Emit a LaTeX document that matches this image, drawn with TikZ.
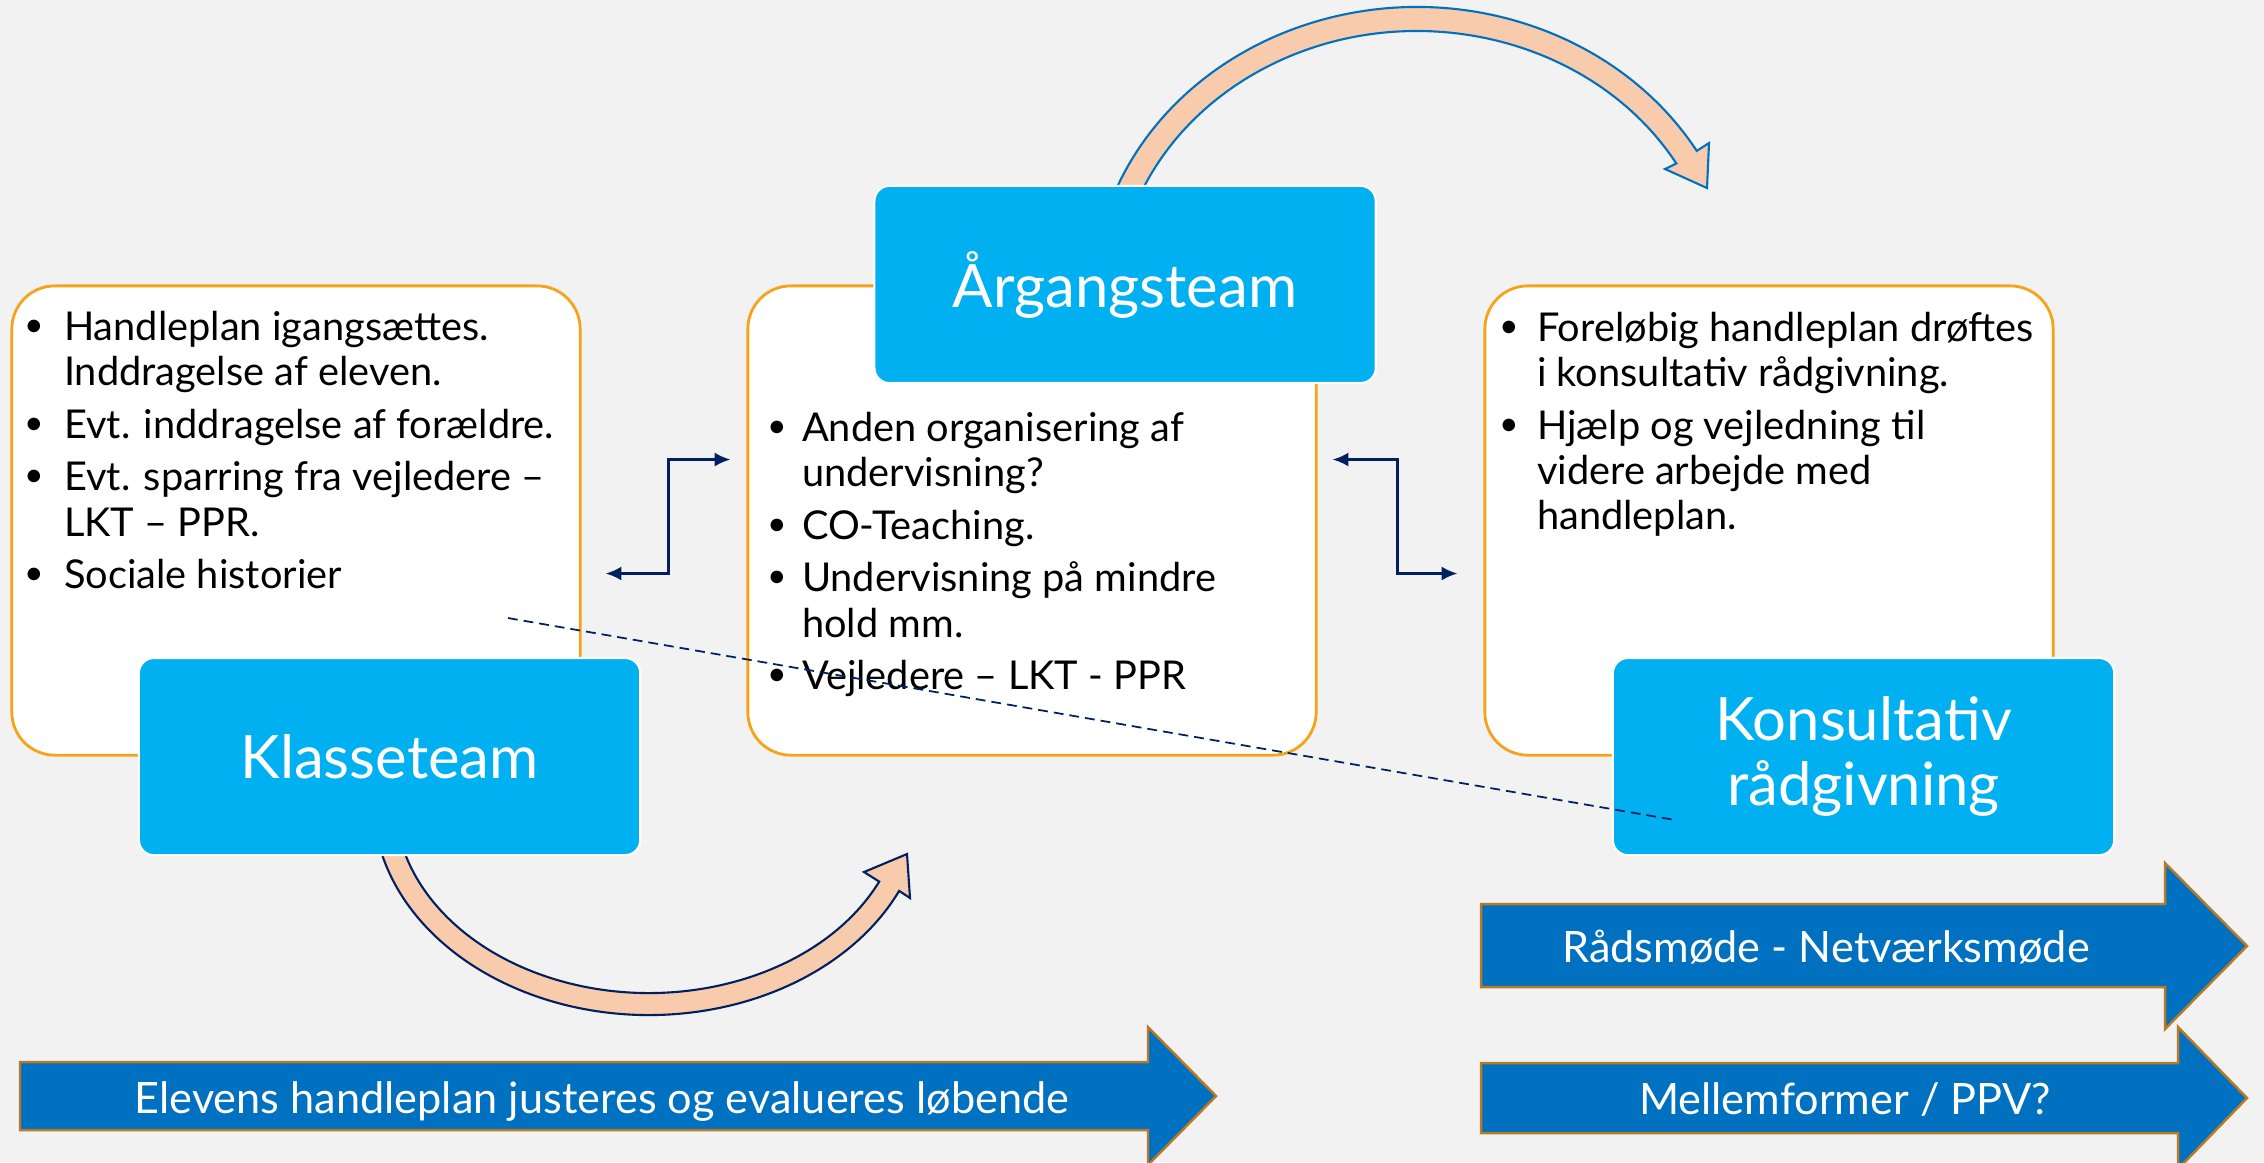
\documentclass[tikz,border=0pt]{standalone}
\usepackage{fontspec}
\setmainfont{Lato}
\usetikzlibrary{positioning,arrows.meta,calc}

\definecolor{bggray}{HTML}{F2F2F2}
\definecolor{teamblue}{HTML}{00B0F0}
\definecolor{boxorange}{HTML}{F5A31A}
\definecolor{navy}{HTML}{002060}
\definecolor{darkblue}{HTML}{0070C0}
\definecolor{peach}{HTML}{F8CBAD}
\definecolor{arrowrim}{HTML}{B87A24}

\newcommand{\dotitem}{\hspace*{-0.07cm}\raisebox{0.2ex}{\scalebox{0.85}{\textbullet}}}

\begin{document}
\begin{tikzpicture}[
        %We set the units to pixels of the slide and define some styles
        x=0.01cm, y=-0.01cm,
        whitebox/.style={draw=boxorange, line width=0.8pt, fill=white, rounded corners=0.43cm,
            minimum width=5.68cm, minimum height=4.69cm, inner sep=0pt},
        teambox/.style={draw=white, line width=0.6pt, fill=teamblue, rounded corners=0.15cm,
            minimum width=5.01cm, minimum height=1.97cm, inner sep=0pt, text=white, align=center,
            font=\fontsize{17}{18.5}\selectfont},
        bulletlist/.style={anchor=base west, inner sep=0pt, font=\fontsize{11.3}{12.8}\selectfont},
        biarrow/.style={navy, line width=0.7pt, {Latex[length=4.5pt,width=4pt]}-{Latex[length=4.5pt,width=4pt]}},
        bigcurve/.style={fill=peach, line width=0.6pt, line join=miter},
        flatarrow/.style={fill=darkblue, draw=arrowrim, line width=0.7pt},
        arrowtext/.style={text=white, inner sep=0pt, font=\fontsize{12.3}{14}\selectfont},
        dashline/.style={navy, line width=0.5pt, dash pattern=on 2.8pt off 1.7pt}
]
    % background
    \fill[bggray] (0,0) rectangle (2264,1162);
    \useasboundingbox (0,0) rectangle (2264,1162);

    % The curved arrows go behind the boxes
    \draw[bigcurve, draw=darkblue]
        ([shift={(-158:325 and 293)}]1417,300) arc[start angle=-158, end angle=-30.6, x radius=325, y radius=293]
        -- (1709,143) -- (1707,188) -- (1665,169)
        -- ([shift={(-30.5:301 and 269)}]1417,300) arc[start angle=-30.5, end angle=-157, x radius=301, y radius=269]
        -- cycle;
    \draw[bigcurve, draw=navy]
        ([shift={(166:276 and 215)}]649,800) arc[start angle=166, end angle=25, x radius=276, y radius=215]
        -- (910,898) -- (907,854) -- (864,872)
        -- ([shift={(25:254 and 193)}]649,800) arc[start angle=25, end angle=166, x radius=254, y radius=193]
        -- cycle;

    % white boxes
    \node[whitebox] (klassebox) at (296,520.5) {};
    \node[whitebox] (aargangbox) at (1032,520.5) {};
    \node[whitebox] (konsulentbox) at (1769,520.5) {};

    % the bullet lists
    \node[bulletlist] (klasselist) at ([shift={(20,56)}]klassebox.north west) {%
        \begin{tabular}[t]{@{}p{0.33cm}@{}l@{}}
        \dotitem & Handleplan igangsættes.\\
                 & Inddragelse af eleven.\\[2.2pt]
        \dotitem & Evt. inddragelse af forældre.\\[2.2pt]
        \dotitem & Evt. sparring fra vejledere –\\
                 & LKT – PPR.\\[2.2pt]
        \dotitem & Sociale historier
        \end{tabular}};
    \node[bulletlist] (aarganglist) at ([shift={(27,157)}]aargangbox.north west) {%
        \begin{tabular}[t]{@{}p{0.28cm}@{}l@{}}
        \dotitem & Anden organisering af\\
                 & undervisning?\\[2.2pt]
        \dotitem & CO-Teaching.\\[2.2pt]
        \dotitem & Undervisning på mindre\\
                 & hold mm.\\[2.2pt]
        \dotitem & Vejledere – LKT - PPR
        \end{tabular}};
    \node[bulletlist] (konsulentlist) at ([shift={(22,57)}]konsulentbox.north west) {%
        \begin{tabular}[t]{@{}p{0.31cm}@{}l@{}}
        \dotitem & Foreløbig handleplan drøftes\\
                 & i konsultativ rådgivning.\\[2.2pt]
        \dotitem & Hjælp og vejledning til\\
                 & videre arbejde med\\
                 & handleplan.
        \end{tabular}};

    % team boxes sit on the edges of the white boxes
    \node[teambox] (klasse) at ([xshift=0.935cm]klassebox.south) {Klasseteam};
    \node[teambox] (aargang) at ([xshift=0.93cm]aargangbox.north) {Årgangsteam};
    \node[teambox] (konsulent) at ([xshift=0.945cm]konsulentbox.south) {Konsultativ\\rådgivning};

    % links between the boxes
    \draw[biarrow] ([shift={(24,53)}]klassebox.east) -- ++(63,0) |- ([shift={(-16,-61)}]aargangbox.west);
    \draw[biarrow] ([shift={(15,-61)}]aargangbox.east) -- ++(65,0) |- ([shift={(-26,53)}]konsulentbox.west);

    % block arrows at the bottom
    \draw[flatarrow] (20,1062) -- (1148,1062) -- (1148,1027) -- (1216,1096) -- (1148,1165) -- (1148,1130) -- (20,1130) -- cycle;
    \draw[flatarrow] (1481,904) -- (2165,904) -- (2165,863) -- (2247,946) -- (2165,1029) -- (2165,987) -- (1481,987) -- cycle;
    \draw[flatarrow] (1481,1063) -- (2178,1063) -- (2178,1027) -- (2247,1098) -- (2178,1169) -- (2178,1133) -- (1481,1133) -- cycle;
    \node[arrowtext] (elevens) at (602,1101) {Elevens handleplan justeres og evalueres løbende};
    \node[arrowtext] (raadsmoede) at (1826,947) {Rådsmøde - Netværksmøde};
    \node[arrowtext] (mellemformer) at (1845,1100) {Mellemformer / PPV?};

    % the dashed line is drawn last
    \coordinate (dashstart) at (508,618);
    \coordinate (dashend) at (1675,820);
    \draw[dashline] (dashstart) -- (dashend);
\end{tikzpicture}
\end{document}
